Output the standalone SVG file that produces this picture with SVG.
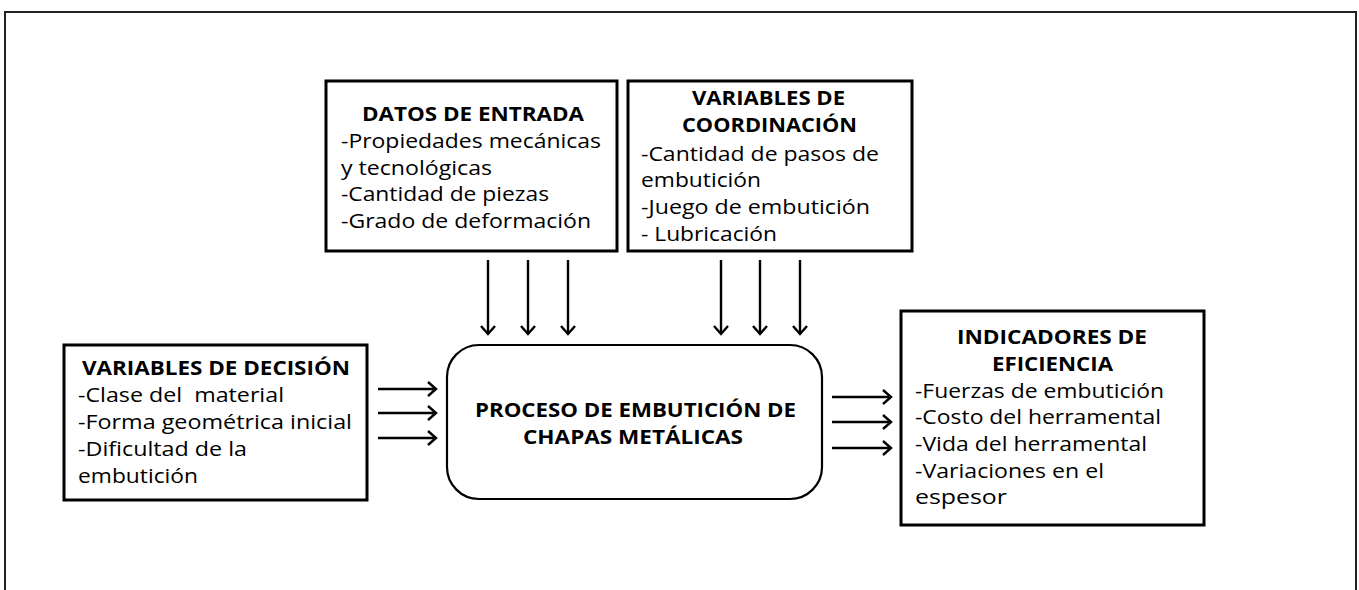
<svg xmlns="http://www.w3.org/2000/svg" width="1359" height="590" viewBox="0 0 1359 590">
<style>
.box{fill:#fff;stroke:#000;stroke-width:3}
.proc{fill:#fff;stroke:#000;stroke-width:2.2}
.t{font-family:"Open Sans","Noto Sans","Liberation Sans",sans-serif;font-size:20px;fill:#000}
.b{font-weight:bold}
.c{stroke:#000;stroke-width:2.4;fill:none}
</style>
<defs>
<marker id="ah" markerUnits="userSpaceOnUse" markerWidth="14" markerHeight="18" viewBox="-11 -9 14 18" refX="0" refY="0" orient="auto">
<path d="M-8,-7 L0,0 L-8,7" fill="none" stroke="#000" stroke-width="2.4"/>
</marker>
</defs>
<rect width="1359" height="590" fill="#fff"/>
<rect x="5" y="12" width="1351" height="600" fill="none" stroke="#222" stroke-width="2"/>

<g id="datos">
<rect class="box" x="326" y="81" width="291" height="170"/>
<text class="t b" x="362" y="121" textLength="222" lengthAdjust="spacingAndGlyphs">DATOS DE ENTRADA</text>
<text class="t" x="341" y="148" textLength="260" lengthAdjust="spacingAndGlyphs">-Propiedades mecánicas</text>
<text class="t" x="341" y="174.5" textLength="151" lengthAdjust="spacingAndGlyphs">y tecnológicas</text>
<text class="t" x="341" y="201" textLength="208" lengthAdjust="spacingAndGlyphs">-Cantidad de piezas</text>
<text class="t" x="341" y="227.5" textLength="250" lengthAdjust="spacingAndGlyphs">-Grado de deformación</text>
</g>

<g id="coordinacion">
<rect class="box" x="628" y="81" width="284" height="170"/>
<text class="t b" x="692" y="105" textLength="153" lengthAdjust="spacingAndGlyphs">VARIABLES DE</text>
<text class="t b" x="682" y="132" textLength="175" lengthAdjust="spacingAndGlyphs">COORDINACIÓN</text>
<text class="t" x="641" y="160.5" textLength="238" lengthAdjust="spacingAndGlyphs">-Cantidad de pasos de</text>
<text class="t" x="641" y="187" textLength="120" lengthAdjust="spacingAndGlyphs">embutición</text>
<text class="t" x="641" y="213.5" textLength="229" lengthAdjust="spacingAndGlyphs">-Juego de embutición</text>
<text class="t" x="641" y="240.5" textLength="136" lengthAdjust="spacingAndGlyphs">- Lubricación</text>
</g>

<g id="decision">
<rect class="box" x="64" y="345" width="303" height="155"/>
<text class="t b" x="82" y="375" textLength="268" lengthAdjust="spacingAndGlyphs">VARIABLES DE DECISIÓN</text>
<text class="t" x="78" y="402" textLength="206" lengthAdjust="spacingAndGlyphs" xml:space="preserve">-Clase del  material</text>
<text class="t" x="78" y="429" textLength="274" lengthAdjust="spacingAndGlyphs">-Forma geométrica inicial</text>
<text class="t" x="78" y="456" textLength="169" lengthAdjust="spacingAndGlyphs">-Dificultad de la</text>
<text class="t" x="78" y="482.5" textLength="120" lengthAdjust="spacingAndGlyphs">embutición</text>
</g>

<g id="proceso">
<rect class="proc" x="447" y="345" width="375" height="154" rx="32" ry="32"/>
<text class="t b" x="475" y="416.5" textLength="321" lengthAdjust="spacingAndGlyphs">PROCESO DE EMBUTICIÓN DE</text>
<text class="t b" x="523" y="443.5" textLength="220" lengthAdjust="spacingAndGlyphs">CHAPAS METÁLICAS</text>
</g>

<g id="indicadores">
<rect class="box" x="901" y="311" width="303" height="214"/>
<text class="t b" x="957" y="344" textLength="190" lengthAdjust="spacingAndGlyphs">INDICADORES DE</text>
<text class="t b" x="992" y="371" textLength="121" lengthAdjust="spacingAndGlyphs">EFICIENCIA</text>
<text class="t" x="915" y="397.5" textLength="249" lengthAdjust="spacingAndGlyphs">-Fuerzas de embutición</text>
<text class="t" x="915" y="424" textLength="246" lengthAdjust="spacingAndGlyphs">-Costo del herramental</text>
<text class="t" x="915" y="451" textLength="232" lengthAdjust="spacingAndGlyphs">-Vida del herramental</text>
<text class="t" x="915" y="477.5" textLength="189" lengthAdjust="spacingAndGlyphs">-Variaciones en el</text>
<text class="t" x="915" y="504" textLength="92" lengthAdjust="spacingAndGlyphs">espesor</text>
</g>

<g id="connectors">
<line class="c" x1="488" y1="260" x2="488" y2="334" marker-end="url(#ah)"/>
<line class="c" x1="528" y1="260" x2="528" y2="334" marker-end="url(#ah)"/>
<line class="c" x1="568" y1="260" x2="568" y2="334" marker-end="url(#ah)"/>
<line class="c" x1="721" y1="260" x2="721" y2="334" marker-end="url(#ah)"/>
<line class="c" x1="760" y1="260" x2="760" y2="334" marker-end="url(#ah)"/>
<line class="c" x1="800" y1="260" x2="800" y2="334" marker-end="url(#ah)"/>
<line class="c" x1="378" y1="389" x2="436" y2="389" marker-end="url(#ah)"/>
<line class="c" x1="378" y1="413" x2="436" y2="413" marker-end="url(#ah)"/>
<line class="c" x1="378" y1="438" x2="436" y2="438" marker-end="url(#ah)"/>
<line class="c" x1="832" y1="397" x2="891" y2="397" marker-end="url(#ah)"/>
<line class="c" x1="832" y1="422" x2="891" y2="422" marker-end="url(#ah)"/>
<line class="c" x1="832" y1="448" x2="891" y2="448" marker-end="url(#ah)"/>
</g>
</svg>
